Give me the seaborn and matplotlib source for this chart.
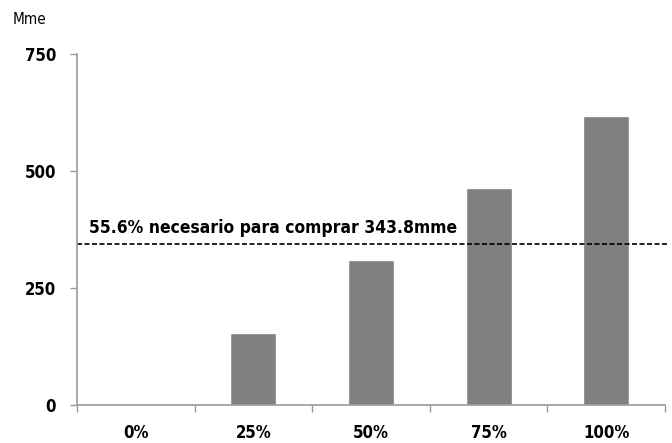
import pandas as pd
import matplotlib.pyplot as plt
import seaborn as sns

# ---------- DATOS ----------
categorias = ['0%', '25%', '50%', '75%', '100%']
valores = [0, 154.7, 309.4, 464.1, 618.8]
umbral = 343.8
etiqueta_umbral = '55.6% necesario para comprar 343.8mme'
y_ticks = [0, 250, 500, 750]

df = pd.DataFrame({'Categoria': categorias, 'Valor': valores})

# ---------- ESTILO ----------
sns.set_style('white')
plt.rcParams['font.family'] = ['DejaVu Sans']
plt.rcParams['font.stretch'] = 'condensed'
plt.rcParams['text.color'] = 'black'
plt.rcParams['xtick.color'] = '#999999'
plt.rcParams['ytick.color'] = '#999999'
plt.rcParams['xtick.labelcolor'] = 'black'
plt.rcParams['ytick.labelcolor'] = 'black'

fig = plt.figure(figsize=(6.72, 4.43), dpi=100)
ax = fig.add_axes([0.1146, 0.0858, 0.875, 0.792])

sns.barplot(data=df, x='Categoria', y='Valor', color='#808080', width=0.39,
            saturation=1, ax=ax)

# línea del umbral
ax.axhline(umbral, color='black', linestyle='--', linewidth=1.2, dashes=(3, 1.5),
           xmin=0, xmax=1.005, clip_on=False)
ax.text(-0.4, umbral + 16, etiqueta_umbral, fontsize=12.5, fontweight='bold',
        ha='left', va='bottom', color='black')

ax.set_ylim(0, 750)
ax.set_xlim(-0.5, 4.5)
ax.set_yticks(y_ticks)
ax.set_yticklabels([str(t) for t in y_ticks], fontsize=12, fontweight='bold')
ax.set_xticks(range(len(categorias)))
ax.set_xticklabels(categorias, fontsize=12, fontweight='bold')
ax.set_xlabel('')
ax.set_ylabel('')

# ticks del eje x en los límites de categoría
ax.set_xticks([i - 0.5 for i in range(len(categorias) + 1)], minor=True)
ax.tick_params(axis='x', which='major', bottom=True, length=0, pad=14)
ax.tick_params(axis='x', which='minor', bottom=True, length=5, width=1, direction='out')
ax.tick_params(axis='y', left=True, length=5, width=1, direction='out', pad=10)

for s in ['top', 'right']:
    ax.spines[s].set_visible(False)
for s in ['left', 'bottom']:
    ax.spines[s].set_color('#999999')
    ax.spines[s].set_linewidth(1.2)

fig.text(0.019, 0.955, 'Mme', fontsize=11, ha='left', va='center')

fig.savefig('out.png', dpi=100)
